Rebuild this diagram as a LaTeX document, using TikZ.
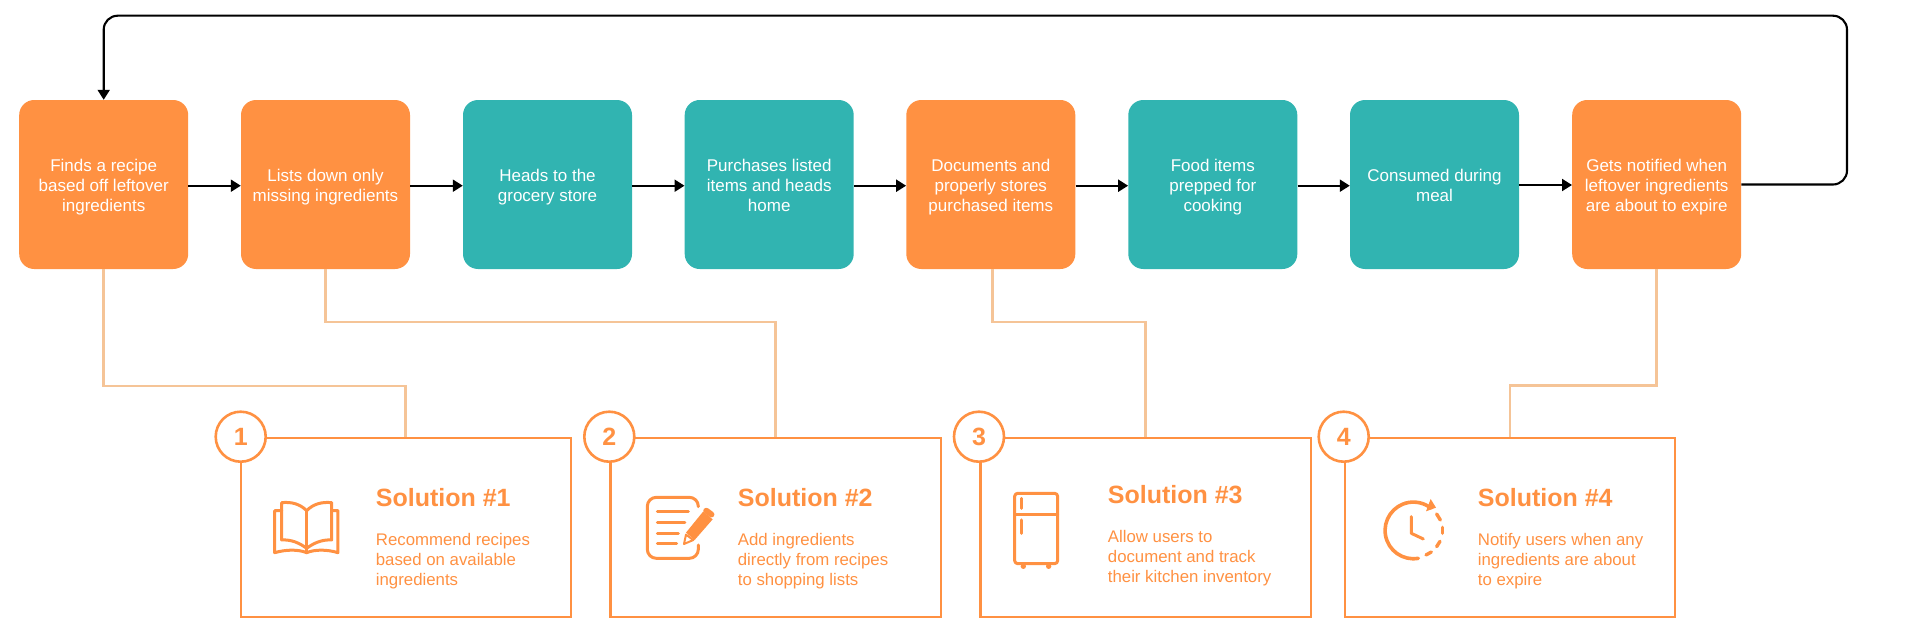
\documentclass[tikz,border=0pt]{standalone}
\usepackage{fontspec}
\setmainfont{Liberation Sans}
\usetikzlibrary{arrows.meta}
\definecolor{orng}{HTML}{FF9142}
\definecolor{teal2}{HTML}{31B4B1}
\definecolor{link}{HTML}{F5C497}
\newcommand\ftxt[1]{\raisebox{-7pt}[0pt][0pt]{\begin{tabular}{@{}c@{}}#1\end{tabular}}}
\tikzset{
  flow/.style={minimum width=169pt,minimum height=169pt,inner sep=0pt,rounded corners=15pt,text=white,font=\fontsize{17}{20}\selectfont},
  probbox/.style={flow,fill=orng},
  plainbox/.style={flow,fill=teal2},
  arr/.style={draw=black,line width=2.1pt,-{Triangle[length=10pt,width=12pt]}},
  back/.style={draw=black,line width=2.1pt,rounded corners=14pt,-{Triangle[length=10pt,width=12pt]}},
  linkline/.style={draw=link,line width=2.5pt},
  solbox/.style={draw=orng,line width=2.3pt,minimum width=330.5pt,minimum height=179pt,inner sep=0pt,fill=white},
  badge/.style={draw=orng,line width=2.6pt,fill=white,circle,minimum size=50pt,inner sep=0pt,text=orng,font=\fontsize{25}{25}\selectfont\bfseries},
  soltitle/.style={anchor=west,inner sep=0pt,text=orng,font=\fontsize{25}{25}\selectfont\bfseries},
  soltext/.style={anchor=north west,inner sep=0pt,text=orng,align=left,font=\fontsize{16.8}{20}\selectfont},
  ico/.style={draw=orng,line width=3pt,line cap=round,line join=round},
}
\begin{document}
\begin{tikzpicture}[x=1pt,y=-1pt]
\useasboundingbox (0,0) rectangle (1920,642);
\node[probbox]  (f1) at (103.7,184.5) {\ftxt{Finds a recipe\\based off leftover\\ingredients}};
\node[probbox]  (f2) at (325.5,184.5) {\ftxt{Lists down only\\missing ingredients}};
\node[plainbox] (f3) at (547.5,184.5) {\ftxt{Heads to the\\grocery store}};
\node[plainbox] (f4) at (769.2,184.5) {\ftxt{Purchases listed\\items and heads\\home}};
\node[probbox]  (f5) at (990.8,184.5) {\ftxt{Documents and\\properly stores\\purchased items}};
\node[plainbox] (f6) at (1212.8,184.5) {\ftxt{Food items\\prepped for\\cooking}};
\node[plainbox] (f7) at (1434.5,184.5) {\ftxt{Consumed during\\meal}};
\node[probbox]  (f8) at (1656.7,184.5) {\ftxt{Gets notified when\\leftover ingredients\\are about to expire}};

\foreach \a/\b in {f1/f2,f2/f3,f3/f4,f4/f5,f5/f6,f6/f7}
  \draw[arr] ([yshift=-1.2pt]\a.east) -- ([yshift=-1.2pt]\b.west);
\draw[arr] ([yshift=-0.5pt]f7.east) -- ([yshift=-0.5pt]f8.west);
\coordinate (lr) at (1847,15.7);
\draw[back] (f8.east) -| (lr) -| (f1.north);

\node[solbox] (s1) at (405.9,527.5) {};
\node[solbox] (s2) at (775.7,527.5) {};
\node[solbox] (s3) at (1145.7,527.5) {};
\node[solbox] (s4) at (1509.9,527.5) {};

\coordinate (j1) at (405.7,386);
\coordinate (j2) at (775.7,322);
\coordinate (j3) at (1145.7,322);
\coordinate (j4) at (1510,385.7);
\coordinate (o3) at (992.5,269);
\draw[linkline] (f1.south) |- (j1) -- (j1 |- s1.north);
\draw[linkline] (f2.south) |- (j2) -- (j2 |- s2.north);
\draw[linkline] (o3) |- (j3) -- (j3 |- s3.north);
\draw[linkline] (f8.south) |- (j4) -- (j4 |- s4.north);

\node[badge] (b1) at (240.7,436.7) {1};
\node[badge] (b2) at (609.3,436.7) {2};
\node[badge] (b3) at (979,436.7) {3};
\node[badge] (b4) at (1343.7,436.7) {4};

\node[soltitle] (t1) at (375.7,497.7) {Solution \#1};
\node[soltitle] (t2) at (737.7,497.7) {Solution \#2};
\node[soltitle] (t3) at (1107.7,494.3) {Solution \#3};
\node[soltitle] (t4) at (1477.7,497.7) {Solution \#4};
\node[soltext] (d1) at (375.7,533.5) {Recommend recipes\\based on available\\ingredients};
\node[soltext] (d2) at (737.7,533.5) {Add ingredients\\directly from recipes\\to shopping lists};
\node[soltext] (d3) at (1107.7,530.5) {Allow users to\\document and track\\their kitchen inventory};
\node[soltext] (d4) at (1477.7,533.5) {Notify users when any\\ingredients are about\\to expire};

% book icon
\begin{scope}[shift={(200,400)},x=0.3333pt,y=-0.3333pt]
\draw[ico] (320,332) .. controls (300,312) and (275,305) .. (245,308) -- (245,420) .. controls (275,418) and (300,430) .. (320,445);
\draw[ico] (320,332) .. controls (340,312) and (365,305) .. (395,308) -- (395,420) .. controls (365,418) and (340,430) .. (320,445);
\draw[ico] (320,332) -- (320,458);
\draw[ico] (245,332) -- (224,332) -- (224,458) .. controls (260,448) and (295,448) .. (320,458) .. controls (345,448) and (380,448) .. (414,458) -- (414,332) -- (395,332);
\end{scope}

% notepad icon
\begin{scope}[shift={(570,400)},x=0.3333pt,y=-0.3333pt]
\draw[ico,rounded corners=9pt] (385,320) -- (385,292) -- (232,292) -- (232,475) -- (385,475) -- (385,435);
\draw[ico] (262,334) -- (355,334);
\draw[ico] (262,367) -- (345,367);
\draw[ico] (262,400) -- (325,400);
\draw[ico] (262,432) -- (320,432);
\fill[orng] (348,398) -- (400,334) -- (428,358) -- (374,420) -- cycle;
\fill[orng,rounded corners=3pt] (408,320) -- (437,342) -- (426,356) -- (396,332) -- cycle;
\draw[orng,line width=2pt,line join=round] (348,404) -- (342,432) -- (370,420) -- cycle;
\end{scope}

% fridge icon
\begin{scope}[shift={(940,400)},x=0.3333pt,y=-0.3333pt]
\draw[ico,rounded corners=3pt] (224,280) rectangle (353,491);
\draw[ico] (224,343) -- (353,343);
\draw[ico] (244,295) -- (244,325);
\draw[ico] (244,360) -- (244,400);
\fill[orng] (250,499) circle (8);
\fill[orng] (326,499) circle (8);
\end{scope}

% clock icon
\begin{scope}[shift={(1300,400)},x=0.3333pt,y=-0.3333pt]
\draw[ico,line width=3.6pt] (355,475) arc[start angle=80,end angle=308,radius=85];
\fill[orng] (392,297) -- (408,323) -- (378,334) -- cycle;
\draw[ico,line width=3.4pt] (410,342) -- (421,360);
\draw[ico,line width=3.4pt] (428,382) -- (428,400);
\draw[ico,line width=3.4pt] (420,424) -- (410,440);
\draw[ico,line width=3.4pt] (394,456) -- (378,465);
\draw[ico] (334,350) -- (334,400) -- (370,417);
\end{scope}
\end{tikzpicture}
\end{document}
